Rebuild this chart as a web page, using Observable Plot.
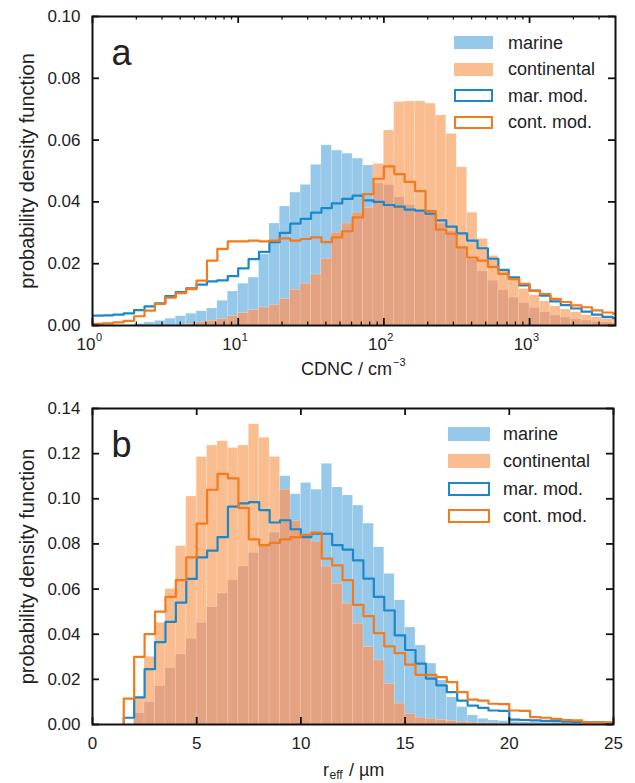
<!DOCTYPE html>
<html><head><meta charset="utf-8">
<script src="https://cdn.jsdelivr.net/npm/d3@7"></script>
<script src="https://cdn.jsdelivr.net/npm/@observablehq/plot@0.6"></script>
<style>
body{margin:0;background:#fff;}
#wrap{position:relative;width:635px;height:783px;font-family:"Liberation Sans",Arial,sans-serif;color:#222;}
.panel{position:absolute;left:0;}
.sw{position:absolute;box-sizing:border-box;}
.lt{position:absolute;font-size:18px;line-height:20px;height:20px;white-space:nowrap;color:#222;}
</style></head><body><div id="wrap"></div>
<script>
// ---------- Panel a: CDNC (log bins, 14 per decade, starting at 10^0) ----------
const binsPerDecade = 14;
const marineA = [0,0,0,0,0.0005,0.001,0.0015,0.0022,0.003,0.0038,0.0046,0.0055,0.008,0.011,0.0135,0.0155,0.023,0.033,0.0385,0.043,0.0455,0.052,0.0583,0.0566,0.0556,0.054,0.0518,0.046,0.0455,0.0415,0.039,0.037,0.036,0.033,0.0305,0.025,0.0215,0.0175,0.0145,0.0115,0.009,0.0073,0.0057,0.0043,0.0032,0.0026,0.002,0.0016,0.0012,0.001,0.0008];
const continentalA = [0,0,0,0,0,0,0,0,0,0.0005,0.001,0.0015,0.002,0.003,0.004,0.005,0.0058,0.0065,0.0085,0.0115,0.0135,0.0165,0.0216,0.030,0.033,0.0365,0.038,0.0523,0.0631,0.0723,0.0725,0.0725,0.0718,0.068,0.062,0.0512,0.0365,0.028,0.0225,0.018,0.015,0.0118,0.0098,0.0078,0.0062,0.0052,0.0043,0.0033,0.0027,0.0022,0.002];
const marModA = [0.0032,0.0033,0.0035,0.0039,0.005,0.0062,0.0072,0.0095,0.0108,0.012,0.0132,0.0143,0.0146,0.016,0.0185,0.0215,0.0238,0.027,0.030,0.033,0.0345,0.0365,0.038,0.0395,0.041,0.042,0.0405,0.040,0.039,0.0385,0.0375,0.0372,0.0362,0.034,0.032,0.0298,0.0275,0.025,0.0216,0.018,0.0156,0.013,0.0113,0.0097,0.0078,0.0066,0.0055,0.0045,0.0035,0.0028,0.0024];
const contModA = [0.0005,0.0007,0.001,0.0015,0.003,0.0048,0.007,0.009,0.0105,0.0118,0.0145,0.021,0.0248,0.0272,0.0272,0.0275,0.0272,0.0275,0.0282,0.0275,0.028,0.0285,0.027,0.0285,0.0305,0.035,0.0425,0.0475,0.0515,0.049,0.0465,0.0435,0.037,0.031,0.0297,0.0253,0.022,0.021,0.019,0.0167,0.015,0.0135,0.0113,0.0102,0.0086,0.0076,0.0065,0.0059,0.0049,0.0042,0.0038];
const xDomainA = [1, 3890];
const yTicksA = [0, 0.02, 0.04, 0.06, 0.08, 0.10];
const xMajorA = [1, 10, 100, 1000];

// ---------- Panel b: r_eff (0.5 µm bins starting at 1.5 µm) ----------
const binStartB = 1.5, binWidthB = 0.5;
const marineB = [0,0.005,0.010,0.017,0.025,0.031,0.038,0.045,0.052,0.058,0.064,0.070,0.076,0.080,0.085,0.110,0.102,0.107,0.104,0.1155,0.105,0.1015,0.097,0.089,0.0785,0.0667,0.055,0.043,0.035,0.027,0.0195,0.012,0.0077,0.004,0.0025,0.0018,0.0015,0.0012,0.001,0.001,0.0008,0.0007,0.0006,0.0005,0.0004,0.0003,0.0002];
const continentalB = [0,0.012,0.030,0.045,0.060,0.079,0.101,0.1185,0.1236,0.1255,0.1225,0.1236,0.133,0.127,0.1185,0.104,0.090,0.083,0.081,0.070,0.0623,0.0535,0.0446,0.0343,0.0284,0.018,0.0092,0.0047,0.003,0.0025,0.002,0.0015,0.001,0.0008,0.0005,0.0004,0.0003,0.0002,0.0002,0.0001,0.0001,0,0,0,0,0,0];
const marModB = [0.003,0.012,0.0245,0.0365,0.0455,0.054,0.0645,0.074,0.077,0.083,0.0965,0.098,0.0985,0.095,0.0895,0.0905,0.0865,0.083,0.0845,0.0845,0.0795,0.0775,0.0727,0.0646,0.0565,0.0505,0.0395,0.033,0.027,0.0203,0.0173,0.0143,0.0106,0.0084,0.0074,0.0062,0.006,0.0022,0.002,0.0018,0.0016,0.0015,0.0013,0.0012,0.001,0.001,0.0008];
const contModB = [0.0115,0.030,0.040,0.050,0.0565,0.064,0.074,0.089,0.104,0.111,0.109,0.096,0.082,0.0795,0.0805,0.082,0.083,0.084,0.085,0.0735,0.0705,0.064,0.053,0.048,0.0405,0.0346,0.0316,0.0265,0.022,0.022,0.021,0.0188,0.0143,0.011,0.0106,0.0092,0.009,0.0062,0.006,0.0033,0.003,0.0025,0.002,0.0018,0.001,0.001,0.0008];
const xDomainB = [0, 25];
const yTicksB = [0, 0.02, 0.04, 0.06, 0.08, 0.10, 0.12, 0.14];
const xTicksB = [0, 5, 10, 15, 20, 25];

const legendLabels = ["marine", "continental", "mar. mod.", "cont. mod."];
const colors = {marine: "#96c8e9", continental: "#fabd90", overlap: "#e3a282", marMod: "#1c87c9", contMod: "#f47a1e"};
const FONT = '"Liberation Sans", Arial, sans-serif';
const INK = "#222";

function makeTable(edgeFn, m, c, mm, cm) {
  return m.map((v, i) => ({x1: edgeFn(i), x2: edgeFn(i + 1), marine: v, continental: c[i], marMod: mm[i], contMod: cm[i]}));
}
function stepPts(table, key, startZero) {
  const pts = [];
  if (startZero) pts.push({x: table[0].x1, y: 0});
  table.forEach(d => pts.push({x: d.x1, y: d[key]}));
  const last = table[table.length - 1];
  pts.push({x: last.x2, y: last[key]});
  return pts;
}
function histMarks(table, startZero) {
  const barStyle = {stroke: "#fff", strokeOpacity: 0.22, strokeWidth: 0.7, clip: true};
  return [
    Plot.rect(table, {x1: "x1", x2: "x2", y1: 0, y2: "marine", fill: colors.marine, ...barStyle}),
    Plot.rect(table, {x1: "x1", x2: "x2", y1: 0, y2: "continental", fill: colors.continental, ...barStyle}),
    Plot.rect(table, {x1: "x1", x2: "x2", y1: 0, y2: d => Math.min(d.marine, d.continental), fill: colors.overlap, ...barStyle}),
    Plot.line(stepPts(table, "marMod", startZero), {x: "x", y: "y", curve: "step-after", stroke: colors.marMod, strokeWidth: 2.2, clip: true}),
    Plot.line(stepPts(table, "contMod", startZero), {x: "x", y: "y", curve: "step-after", stroke: colors.contMod, strokeWidth: 2.2, clip: true})
  ];
}
// inward ticks on all four sides, drawn as short tick marks via insets
function inwardTicks(xs, ys, fw, fh, len, sw) {
  const out = [];
  if (xs) {
    out.push(Plot.tickX(xs, {x: d => d, insetTop: fh - len, stroke: "#111", strokeWidth: sw}));
    out.push(Plot.tickX(xs, {x: d => d, insetBottom: fh - len, stroke: "#111", strokeWidth: sw}));
  }
  if (ys) {
    out.push(Plot.tickY(ys, {y: d => d, insetRight: fw - len, stroke: "#111", strokeWidth: sw}));
    out.push(Plot.tickY(ys, {y: d => d, insetLeft: fw - len, stroke: "#111", strokeWidth: sw}));
  }
  return out;
}

const wrap = document.getElementById("wrap");

// ----- Panel a -----
const tableA = makeTable(i => Math.pow(10, i / binsPerDecade), marineA, continentalA, marModA, contModA);
const xMinorA = [];
for (const d of xMajorA) for (let m = 2; m <= 9; m++) if (d * m <= xDomainA[1]) xMinorA.push(d * m);
const fwA = 635 - 92 - 20, fhA = 385 - 16 - 60;

const plotA = Plot.plot({
  width: 635, height: 385, marginLeft: 92, marginRight: 20, marginTop: 16, marginBottom: 60,
  style: {fontFamily: FONT, fontSize: "17px", color: INK, background: "transparent"},
  x: {type: "log", domain: xDomainA, axis: null},
  y: {domain: [0, 0.1]},
  marks: [
    ...histMarks(tableA, false),
    ...inwardTicks(xMajorA, yTicksA, fwA, fhA, 7, 1.8),
    ...inwardTicks(xMinorA, null, fwA, fhA, 3.5, 1.3),
    Plot.frame({stroke: "#111", strokeWidth: 2}),
    Plot.axisY({anchor: "left", ticks: yTicksA, tickSize: 0, tickPadding: 12, tickFormat: ".2f", label: null}),
    Plot.text(xMajorA, {x: d => d, frameAnchor: "bottom", text: () => "10", textAnchor: "end", lineAnchor: "middle", dx: 3, dy: 19, fill: INK}),
    Plot.text(xMajorA, {x: d => d, frameAnchor: "bottom", text: d => String(Math.round(Math.log10(d))), textAnchor: "start", lineAnchor: "middle", dx: 3.5, dy: 12, fontSize: 11, fill: INK}),
    Plot.text(["CDNC / cm"], {frameAnchor: "bottom", text: d => d, textAnchor: "end", lineAnchor: "middle", dx: 38, dy: 44, fontSize: 18, fill: INK}),
    Plot.text(["\u22123"], {frameAnchor: "bottom", text: d => d, textAnchor: "start", lineAnchor: "middle", dx: 39, dy: 37, fontSize: 11, fill: INK}),
    Plot.text(["probability density function"], {frameAnchor: "left", text: d => d, rotate: -90, textAnchor: "middle", lineAnchor: "middle", dx: -65, fontSize: 20, fill: INK}),
    Plot.text(["a"], {frameAnchor: "top-left", text: d => d, textAnchor: "start", lineAnchor: "middle", dx: 19, dy: 37, fontSize: 36, fill: INK})
  ]
});
plotA.classList.add("panel");
plotA.style.top = "0px";
wrap.appendChild(plotA);

// ----- Panel b -----
const tableB = makeTable(i => binStartB + i * binWidthB, marineB, continentalB, marModB, contModB);
const fwB = 635 - 92 - 22, fhB = 391 - 16 - 59;
const plotB = Plot.plot({
  width: 635, height: 391, marginLeft: 92, marginRight: 22, marginTop: 16, marginBottom: 59,
  style: {fontFamily: FONT, fontSize: "17px", color: INK, background: "transparent"},
  x: {domain: xDomainB},
  y: {domain: [0, 0.14]},
  marks: [
    ...histMarks(tableB, true),
    ...inwardTicks(xTicksB, yTicksB, fwB, fhB, 7, 1.8),
    Plot.frame({stroke: "#111", strokeWidth: 2}),
    Plot.axisY({anchor: "left", ticks: yTicksB, tickSize: 0, tickPadding: 12, tickFormat: ".2f", label: null}),
    Plot.axisX({anchor: "bottom", ticks: xTicksB, tickSize: 0, tickPadding: 12, tickFormat: d => String(d), label: null}),
    Plot.text(["r"], {frameAnchor: "bottom", text: d => d, textAnchor: "start", lineAnchor: "middle", dx: -30, dy: 46, fontSize: 18, fill: INK}),
    Plot.text(["eff"], {frameAnchor: "bottom", text: d => d, textAnchor: "start", lineAnchor: "middle", dx: -23.5, dy: 51, fontSize: 12, fill: INK}),
    Plot.text(["/ µm"], {frameAnchor: "bottom", text: d => d, textAnchor: "start", lineAnchor: "middle", dx: -4, dy: 46, fontSize: 18, fill: INK}),
    Plot.text(["probability density function"], {frameAnchor: "left", text: d => d, rotate: -90, textAnchor: "middle", lineAnchor: "middle", dx: -65, fontSize: 20, fill: INK}),
    Plot.text(["b"], {frameAnchor: "top-left", text: d => d, textAnchor: "start", lineAnchor: "middle", dx: 19, dy: 37, fontSize: 36, fill: INK})
  ]
});
plotB.classList.add("panel");
plotB.style.top = "392px";
wrap.appendChild(plotB);

// ----- Legends (inside the plot frames) -----
function legend(left, top, step, swW, swH, textLeft) {
  const styles = [
    {background: colors.marine},
    {background: colors.continental},
    {border: "2.2px solid " + colors.marMod, background: "#fff"},
    {border: "2.2px solid " + colors.contMod, background: "#fff"}
  ];
  legendLabels.forEach((lab, i) => {
    const sw = document.createElement("div");
    sw.className = "sw";
    Object.assign(sw.style, {left: left + "px", top: (top + i * step) + "px", width: swW + "px", height: swH + "px"}, styles[i]);
    wrap.appendChild(sw);
    const t = document.createElement("div");
    t.className = "lt";
    t.textContent = lab;
    Object.assign(t.style, {left: textLeft + "px", top: (top + i * step + swH / 2 - 10) + "px"});
    wrap.appendChild(t);
  });
}
legend(454, 36, 26.5, 39, 13, 508);
legend(448, 427, 27.3, 42, 14, 503);
</script>
</body></html>
